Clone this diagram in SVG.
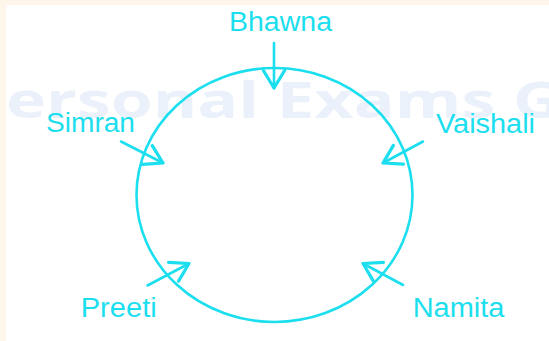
<svg xmlns="http://www.w3.org/2000/svg" width="549" height="341" viewBox="0 0 549 341">
<style>
.lbl{font-family:"Liberation Sans",Arial,sans-serif;font-size:27px;fill:#1bdeee}
.wm{font-family:"Open Sans","Liberation Sans",sans-serif;font-weight:bold;font-size:50px;fill:#ebf1fa}
.ar{stroke:#1bdeee;stroke-width:2.6;fill:none;stroke-linecap:round;stroke-linejoin:round}
</style>
<defs>
<marker id="head" markerUnits="userSpaceOnUse" markerWidth="30" markerHeight="30" refX="0" refY="0" viewBox="-16 -12 20 24" orient="auto" overflow="visible">
<path d="M-14,-8.5 L0,0 L-14,8.5" fill="none" stroke="#1bdeee" stroke-width="2.6" stroke-linecap="round" stroke-linejoin="round"/>
</marker>
</defs>
<rect x="0" y="0" width="549" height="341" fill="#fef6ea"/>
<rect x="6" y="5" width="543" height="336" fill="#ffffff"/>
<text class="wm" x="6" y="118" textLength="556" lengthAdjust="spacingAndGlyphs">ersonal Exams G</text>
<g id="circle">
<ellipse cx="274.5" cy="195" rx="138" ry="127" fill="none" stroke="#1bdeee" stroke-width="2.6"/>
</g>
<g id="connectors">
<line class="ar" x1="274" y1="43" x2="274" y2="88" marker-end="url(#head)"/>
<line class="ar" x1="121" y1="141.5" x2="163" y2="163" marker-end="url(#head)"/>
<line class="ar" x1="423" y1="141.5" x2="383" y2="163" marker-end="url(#head)"/>
<line class="ar" x1="147.5" y1="285.5" x2="189" y2="263.5" marker-end="url(#head)"/>
<line class="ar" x1="403" y1="285" x2="363" y2="263.5" marker-end="url(#head)"/>
</g>
<g id="bhawna"><text class="lbl" x="229" y="30.5" textLength="103" lengthAdjust="spacingAndGlyphs">Bhawna</text></g>
<g id="simran"><text class="lbl" x="46" y="132" textLength="89" lengthAdjust="spacingAndGlyphs">Simran</text></g>
<g id="vaishali"><text class="lbl" x="436" y="133.3" textLength="99" lengthAdjust="spacingAndGlyphs">Vaishali</text></g>
<g id="preeti"><text class="lbl" x="80.7" y="317.3" textLength="76" lengthAdjust="spacingAndGlyphs">Preeti</text></g>
<g id="namita"><text class="lbl" x="412.7" y="317.3" textLength="91.7" lengthAdjust="spacingAndGlyphs">Namita</text></g>
</svg>
